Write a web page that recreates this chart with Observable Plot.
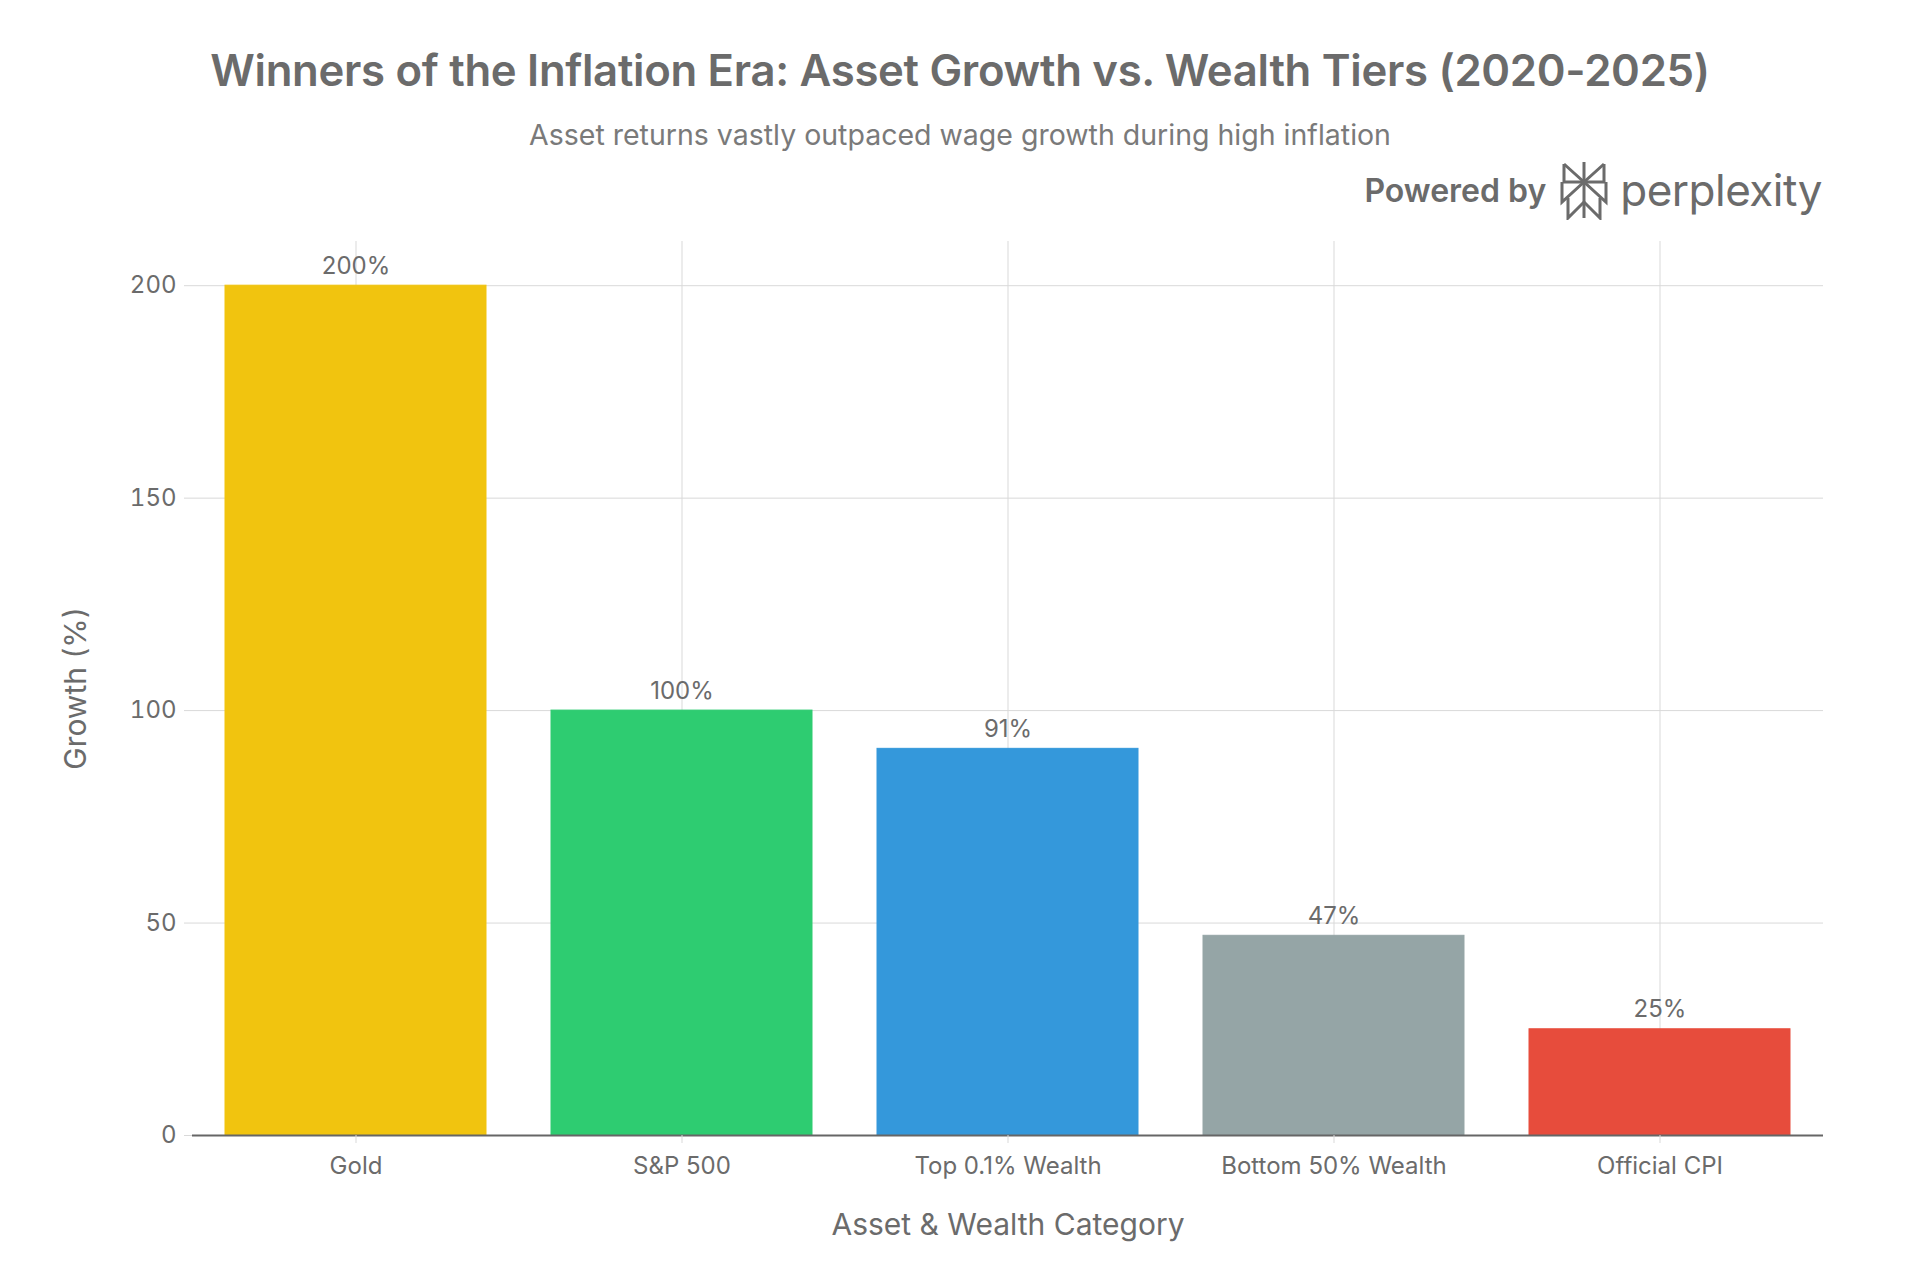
<!DOCTYPE html>
<html>
<head>
<meta charset="utf-8">
<script src="https://cdn.jsdelivr.net/npm/d3@7"></script>
<script src="https://cdn.jsdelivr.net/npm/@observablehq/plot@0.6"></script>
<style>
  html, body { margin: 0; padding: 0; background: #fff; }
  body { width: 1920px; height: 1280px; position: relative; overflow: hidden; font-family: Inter, "Liberation Sans", sans-serif; }
  #header { position: absolute; top: 0; left: 0; width: 1920px; height: 200px; z-index: 2; }
  #title { position: absolute; top: 44px; left: 0; width: 1920px; text-align: center; font-size: 43.7px; font-weight: 600; color: #6b6b6b; letter-spacing: -0.3px; }
  #subtitle { position: absolute; top: 117px; left: 0; width: 1920px; text-align: center; font-size: 28.5px; color: #7a7a7a; }
  #logo { position: absolute; top: 160px; right: 98px; display: flex; align-items: center; color: #6b6b6b; }
  #logo .pb { font-size: 32px; font-weight: 600; margin-right: 12px; }
  #logo .px { font-size: 44px; font-weight: 400; margin-left: 10px; letter-spacing: -0.5px; line-height: 1; }
  #chart { position: absolute; top: 200px; left: 0; z-index: 1; }
</style>
</head>
<body>
<div id="header">
  <div id="title">Winners of the Inflation Era: Asset Growth vs. Wealth Tiers (2020-2025)</div>
  <div id="subtitle">Asset returns vastly outpaced wage growth during high inflation</div>
  <div id="logo">
    <span class="pb">Powered by</span>
    <svg width="52" height="60" viewBox="0 0 52 60" fill="none" stroke="#6b6b6b" stroke-width="3">
      <line x1="26" y1="2" x2="26" y2="58"/>
      <polyline points="6,4 26,22 46,4"/>
      <polyline points="6,4 6,22 46,22 46,4"/>
      <polyline points="4,22 4,42 26,22 48,42 48,22"/>
      <polyline points="10,38 10,58 26,42 42,58 42,38"/>
    </svg>
    <span class="px">perplexity</span>
  </div>
</div>
<div id="chart"></div>
<script>
const categories = ["Gold", "S&P 500", "Top 0.1% Wealth", "Bottom 50% Wealth", "Official CPI"];
const values = [200, 100, 91, 47, 25];
const colors = ["#F1C40F", "#2ECC71", "#3498DB", "#95A5A6", "#E74C3C"];
const yTicks = [0, 50, 100, 150, 200];

const data = categories.map((c, i) => ({category: c, value: values[i], color: colors[i], label: values[i] + "%"}));

const chart = Plot.plot({
  width: 1920,
  height: 1080,
  marginTop: 41,
  marginBottom: 145,
  marginLeft: 192,
  marginRight: 97,
  style: {fontFamily: "Inter, 'Liberation Sans', sans-serif", fontSize: "24px", color: "#6b6b6b", background: "transparent"},
  x: {domain: categories, paddingInner: 0.2, paddingOuter: 0.1, label: null},
  y: {domain: [0, 210.4], label: null},
  marks: [
    Plot.gridY(yTicks, {stroke: "#d9d9d9", strokeOpacity: 1, strokeWidth: 1}),
    Plot.gridX(categories, {stroke: "#d9d9d9", strokeOpacity: 1, strokeWidth: 1}),
    Plot.barY(data, {x: "category", y: "value", fill: "color", stroke: "color", strokeWidth: 1}),
    Plot.ruleY([0], {stroke: "#666", strokeWidth: 2}),
    Plot.text(data, {x: "category", y: "value", text: "label", lineAnchor: "bottom", dy: -12, fill: "#6b6b6b", fontSize: 24}),
    Plot.axisY(yTicks, {tickSize: 8, tickPadding: 8, stroke: "#d9d9d9", fill: "#6b6b6b", fontSize: 24,
      label: "Growth (%)", labelAnchor: "center", labelArrow: "none", labelOffset: 128}),
    Plot.axisX({tickSize: 8, tickPadding: 13, stroke: "#d9d9d9", fill: "#6b6b6b", fontSize: 24,
      label: "Asset & Wealth Category", labelAnchor: "center", labelArrow: "none", labelOffset: 99})
  ]
});
chart.querySelectorAll("[aria-label='y-axis label'] text, [aria-label='x-axis label'] text").forEach(t => t.setAttribute("font-size", "30"));
document.getElementById("chart").appendChild(chart);
</script>
</body>
</html>
